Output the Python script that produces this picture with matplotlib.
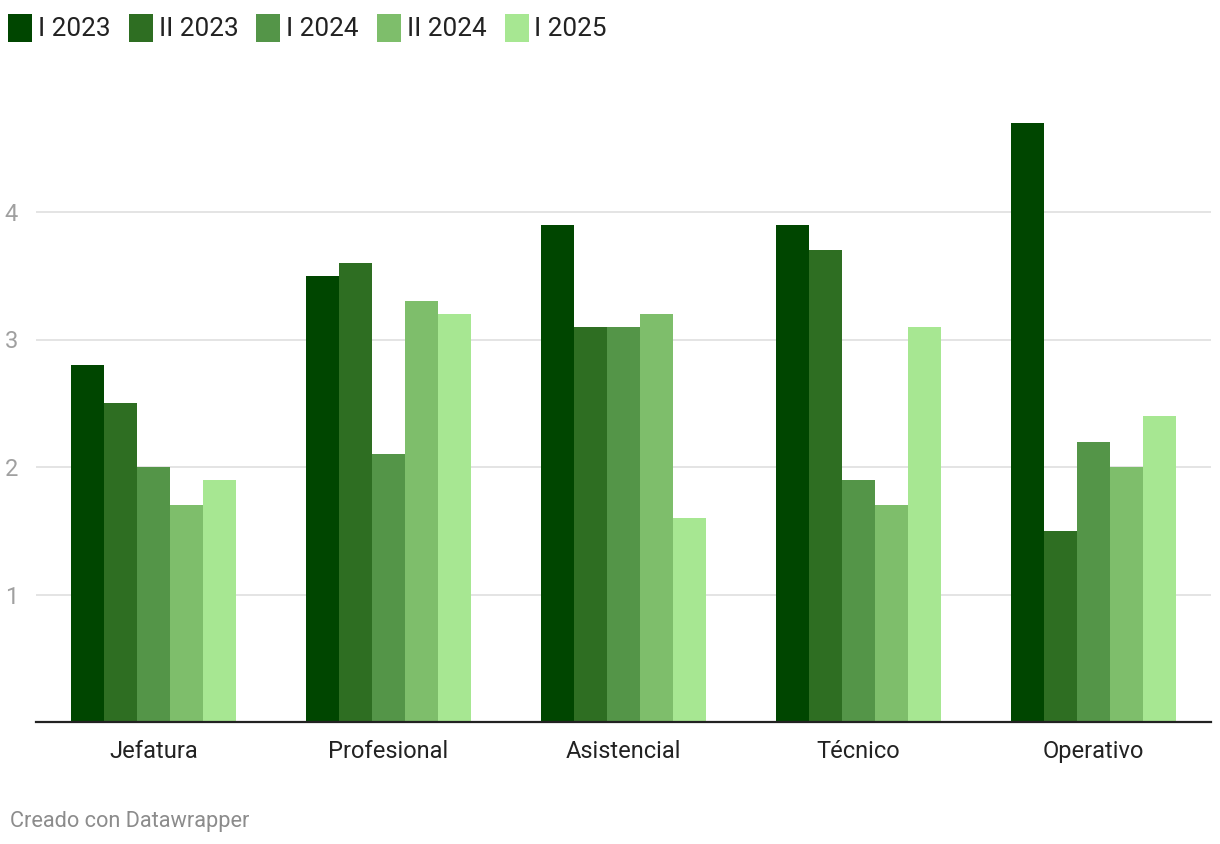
import matplotlib
matplotlib.use("Agg")
import matplotlib.pyplot as plt
import numpy as np

categories = ["Jefatura", "Profesional", "Asistencial", "Técnico", "Operativo"]
series_names = ["I 2023", "II 2023", "I 2024", "II 2024", "I 2025"]
values = {
    "I 2023": [2.8, 3.5, 3.9, 3.9, 4.7],
    "II 2023": [2.5, 3.6, 3.1, 3.7, 1.5],
    "I 2024": [2.0, 2.1, 3.1, 1.9, 2.2],
    "II 2024": [1.7, 3.3, 3.2, 1.7, 2.0],
    "I 2025": [1.9, 3.2, 1.6, 3.1, 2.4],
}
colors = ["#004600", "#2e6e22", "#549548", "#7ebe6b", "#a7e792"]
yticks = [1, 2, 3, 4]

plt.rcParams['font.family'] = ['Roboto', 'DejaVu Sans']

W, H = 1220, 844
fig = plt.figure(figsize=(W/100, H/100), dpi=100)
ax = fig.add_axes([36/W, (H-722)/H, 1175/W, 612/H])

x = np.arange(len(categories))
bw = 33/235
n = len(series_names)
for i, (name, c) in enumerate(zip(series_names, colors)):
    ax.bar(x + (i - (n-1)/2)*bw, values[name], width=bw, color=c, linewidth=0, zorder=3)

ax.set_xlim(-0.5, len(categories)-0.5)
ax.set_ylim(0, 4.8)
ax.set_yticks(yticks)
ax.set_yticklabels([str(t) for t in yticks], color="#a0a0a0", fontsize=17)
ax.yaxis.grid(True, color="#e2e2e2", linewidth=1.3, zorder=0)
ax.tick_params(axis='y', length=0, pad=13)
ax.set_xticks(x)
ax.set_xticklabels(categories, fontsize=17, color="#222222")
ax.tick_params(axis='x', length=0, pad=13)
for s in ["top", "right", "left"]:
    ax.spines[s].set_visible(False)
ax.spines["bottom"].set_color("#222222")
ax.spines["bottom"].set_linewidth(1.6)
ax.spines["bottom"].set_zorder(4)

# legend
renderer = fig.canvas.get_renderer()
xpos = 8
for name, c in zip(series_names, colors):
    fig.patches.append(plt.Rectangle((xpos/W, (H-42)/H), 24/W, 28/H, transform=fig.transFigure,
                                     color=c, linewidth=0))
    t = fig.text((xpos+30)/W, (H-29.5)/H, name, fontsize=18.8, color="#222222", va="center", ha="left")
    bb = t.get_window_extent(renderer=renderer)
    xpos = bb.x1 + 18

fig.text(10/W, (H-822)/H, "Creado con Datawrapper", fontsize=15.7, color="#8c8c8c", va="center", ha="left")

fig.savefig("out.png", dpi=100)
